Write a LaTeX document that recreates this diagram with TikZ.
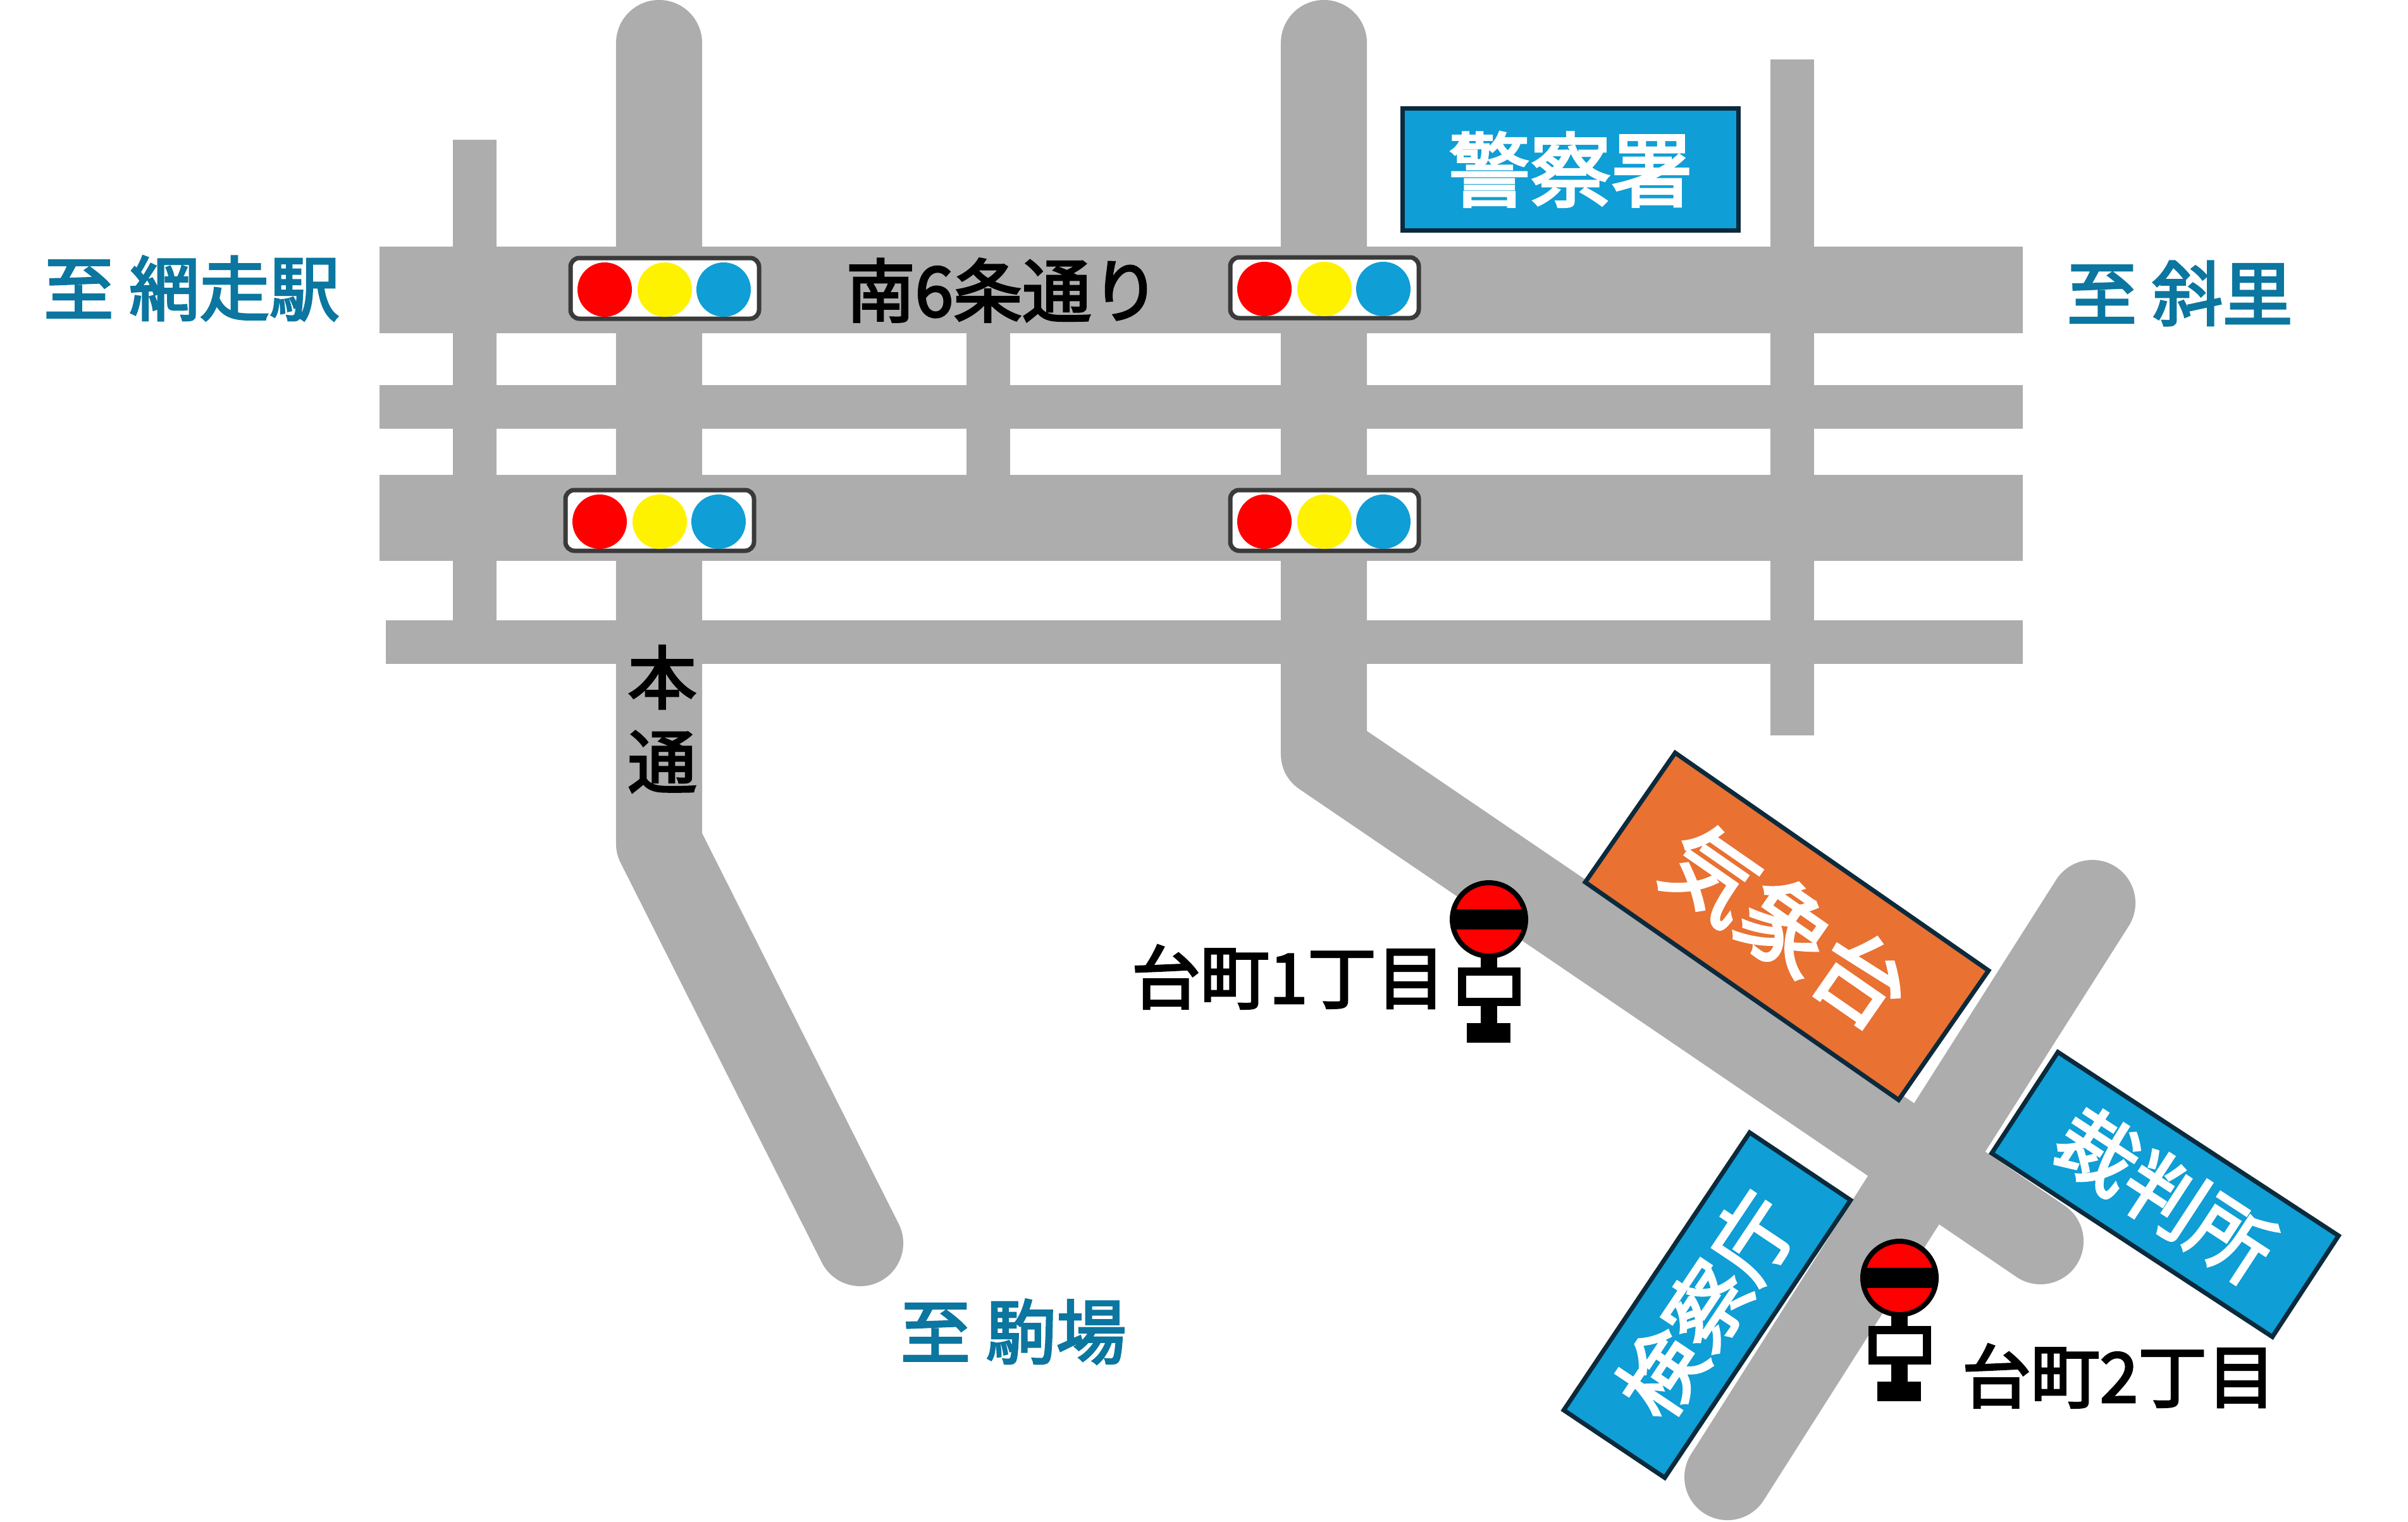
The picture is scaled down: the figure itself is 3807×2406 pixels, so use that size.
\documentclass[tikz,border=0pt]{standalone}
\usepackage{fontspec}
\setmainfont{Noto Sans CJK JP}[FakeBold=3]
\definecolor{roadgray}{HTML}{ADADAD}
\definecolor{bldgblue}{HTML}{0F9ED5}
\definecolor{bldgorange}{HTML}{E97132}
\definecolor{bldgedge}{HTML}{0B2A3C}
\definecolor{destblue}{HTML}{0B76A0}
\definecolor{signaledge}{HTML}{3A3A3A}
\tikzset{
	road/.style={roadgray,line width=1.36cm,line cap=round,line join=round},
	bldg/.style={draw=bldgedge,line width=0.07cm,inner sep=0pt,text=white},
	dest/.style={text=destblue,inner sep=0pt,font=\fontsize{31.5}{36}\selectfont},
	lbl/.style={text=black,inner sep=0pt,font=\fontsize{31}{36}\selectfont}
}
\begin{document}
\begin{tikzpicture}[x=0.01cm,y=-0.01cm]
	\useasboundingbox (0,0) rectangle (3807,2406);
	% Streets
	\fill [roadgray] (600,390) rectangle (3198,527);
	\fill [roadgray] (600,609) rectangle (3198,678);
	\fill [roadgray] (600,751) rectangle (3198,887);
	\fill [roadgray] (610,981) rectangle (3198,1050);
	\fill [roadgray] (716,221) rectangle (785,981);
	\fill [roadgray] (1528,527) rectangle (1597,751);
	\fill [roadgray] (2799,94) rectangle (2868,1163);
	\draw [road] (1042,68) -- (1042,1334) -- (1360,1966);
	\draw [road] (2093,68) -- (2093,1192) -- (3226,1963);
	\draw [road] (3308,1428) -- (2731,2336);
	% Buildings
	\node [bldg,fill=bldgblue,minimum width=5.30cm,minimum height=1.92cm,font=\fontsize{36.5}{40}\selectfont] (police) at (2483,268) {\raisebox{0.05cm}{警察署}};
	\node [bldg,fill=bldgorange,minimum width=6.03cm,minimum height=2.49cm,rotate=-34.8,font=\fontsize{41}{44}\selectfont] (weather) at (2825,1465) {気象台};
	\node [bldg,fill=bldgblue,minimum width=5.30cm,minimum height=1.91cm,rotate=-33.2,font=\fontsize{36}{40}\selectfont] (court) at (3423,1889) {裁判所};
	\node [bldg,fill=bldgblue,minimum width=5.28cm,minimum height=1.92cm,rotate=56.2,font=\fontsize{37}{40}\selectfont] (prosecutor) at (2699,2064) {検察庁};
	% Signals
	\foreach \bx/\by in {1051/456, 1043/823, 2094/455, 2094/823} {
		\draw [signaledge, fill=white, line width=0.07cm, rounded corners=0.14cm] (\bx-149,\by-48) rectangle (\bx+149,\by+48);
		\fill [red] (\bx-95,\by+2) circle (43);
		\fill [yellow] (\bx,\by+2) circle (43);
		\fill [bldgblue] (\bx+93,\by+2) circle (43);
	}
	% Bus stops
	\foreach \sx/\sy in {2354/1454, 3003/2021} {
		\fill [black] (\sx-13,\sy) rectangle (\sx+13,\sy+170);
		\draw [black, fill=white, line width=0.13cm] (\sx-43,\sy+82) rectangle (\sx+43,\sy+130);
		\fill [black] (\sx-35,\sy+164) rectangle (\sx+34,\sy+195);
		\draw [black, fill=red, line width=0.08cm] (\sx,\sy) circle (58);
		\fill [black] (\sx-56,\sy-16) rectangle (\sx+56,\sy+16);
	}
	% Labels
	\node [dest] (toabashiri) at (303,456) {至 網走駅};
	\node [dest] (toshari) at (3446,464) {至 斜里};
	\node [dest] (tokomaba) at (1602,2106) {至 駒場};
	\node [lbl] (south6) at (1586,459) {南6条通り};
	\node [lbl,align=center,font=\fontsize{31}{37.8}\selectfont] (hondori) at (1047,1137) {本\\通};
	\node [lbl] (stop1) at (2037,1545) {台町1丁目};
	\node [lbl] (stop2) at (3350,2176) {台町2丁目};
\end{tikzpicture}
\end{document}
